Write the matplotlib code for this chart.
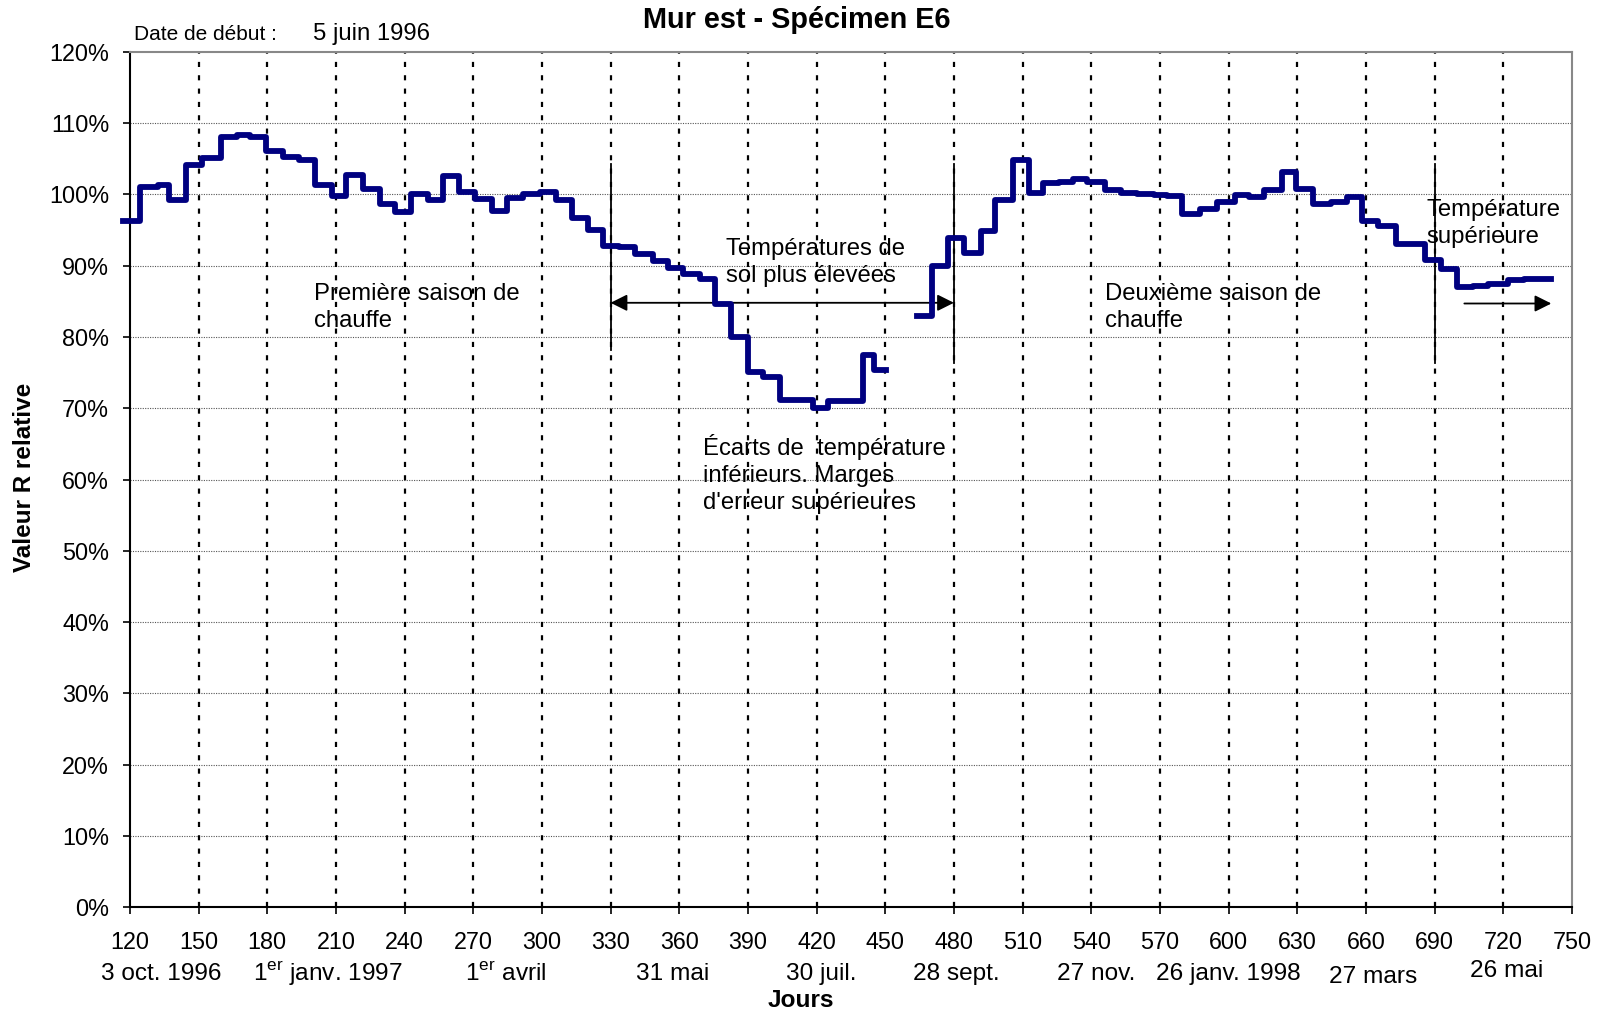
import numpy as np
import matplotlib
matplotlib.use("Agg")
import matplotlib.pyplot as plt
from matplotlib.ticker import FuncFormatter
from matplotlib.transforms import blended_transform_factory

plt.rcParams["font.family"] = ["Liberation Sans", "DejaVu Sans"]

# ── data: start day of each weekly step and its relative R value (%) ─────────
step_days = [117, 124.4, 132.3, 137.1, 144.5, 151.3, 160, 166.6, 172.4, 179.4,
             186.7, 194, 200.8, 208.5, 214.6, 221.9, 229.2, 235.8, 243, 250.3,
             256.8, 263.8, 270.7, 278, 284.8, 291.8, 299.1, 306, 313, 320.2,
             326.8, 333.5, 340.5, 348.5, 355, 361.6, 368.9, 375.4, 382.7, 390,
             396.5, 403.8, 418.4, 424.9, 440.2, 445.3, 450.4,
             464, 470.5, 477.6, 484.4, 491.9, 498.1, 505.8, 512.9, 519, 526,
             532, 538, 545.8, 552.9, 560, 567.2, 573, 579.6, 587.6, 594.8,
             602.8, 609, 615.3, 623.3, 629.6, 636.7, 644.8, 651.9, 658.1,
             665.2, 673.3, 685.7, 692.9, 700, 707, 713.4, 722, 729, 741]
step_vals = [96.3, 101.0, 101.3, 99.2, 104.1, 105.1, 108.1, 108.3, 108.1, 106.1,
             105.3, 104.8, 101.3, 99.8, 102.7, 100.7, 98.7, 97.6, 100.1, 99.2,
             102.6, 100.4, 99.3, 97.7, 99.5, 100.0, 100.4, 99.2, 96.7, 95.0,
             92.7, 92.6, 91.7, 90.6, 89.7, 88.9, 88.1, 84.7, 80.0, 75.1,
             74.4, 71.2, 70.0, 71.0, 77.5, 75.3, np.nan,
             83.0, 90.0, 93.9, 91.8, 94.9, 99.2, 104.9, 100.2, 101.6, 101.7,
             102.2, 101.8, 100.6, 100.2, 100.1, 99.9, 99.8, 97.3, 98.0, 99.0,
             99.9, 99.7, 100.6, 103.1, 100.8, 98.7, 99.0, 99.7, 96.3,
             95.6, 93.1, 90.8, 89.6, 87.0, 87.1, 87.4, 88.0, 88.2, 88.2]

x_ticks = list(range(120, 751, 30))
y_ticks = list(range(0, 121, 10))

date_labels = ["3 oct. 1996", r"1$^{\mathregular{er}}$ janv. 1997",
               r"1$^{\mathregular{er}}$ avril", "31 mai", "30 juil.",
               "28 sept.", "27 nov.", "26 janv. 1998", "27 mars", "26 mai"]
date_days = [133.5, 206.5, 284, 357, 422, 481, 542, 600, 663, 721.5]
date_dy = [0, 0, 0, 0, 0, 0, 0, 0, 3, -3]

season_lines = [(330, 78.2), (480, 76.4), (690, 76.4)]   # day, bottom of line (%)
season_top = 104.3

fig = plt.figure(figsize=(16.04, 10.13), dpi=100)
ax = fig.add_axes([0.081, 0.1046, 0.899, 0.8441])

ax.step(step_days, step_vals, where="post", color="#000080", lw=4.2,
        clip_on=False, zorder=5)

ax.set_xlim(120, 750)
ax.set_ylim(0, 120)
ax.set_xticks(x_ticks)
ax.set_yticks(y_ticks)
ax.yaxis.set_major_formatter(FuncFormatter(lambda v, p: f"{v:.0f}%"))
ax.tick_params(axis="both", labelsize=16.8, direction="out", length=5, width=1.2)
ax.tick_params(axis="x", pad=12)
ax.tick_params(axis="y", pad=10)

# grid
for v in y_ticks[1:-1]:
    ax.axhline(v, color="#555555", lw=0.8, ls=(0, (1, 1.2)), zorder=1)
for d in x_ticks[1:-1]:
    ax.axvline(d, color="black", lw=1.6, ls=(0, (2.3, 3.7)), zorder=1)

for s in ["top", "right"]:
    ax.spines[s].set_color("#888888")
    ax.spines[s].set_linewidth(1.5)
for s in ["left", "bottom"]:
    ax.spines[s].set_linewidth(1.5)

# season markers
for d, bot in season_lines:
    ax.plot([d, d], [bot, season_top], color="black", lw=1.3, zorder=4)
ax.annotate("", xy=(330, 84.8), xytext=(480, 84.8),
            arrowprops=dict(arrowstyle="<|-|>", color="black", lw=1.3,
                            mutation_scale=25, shrinkA=0, shrinkB=0))
ax.annotate("", xy=(741, 84.7), xytext=(703, 84.7),
            arrowprops=dict(arrowstyle="-|>", color="black", lw=1.3,
                            mutation_scale=25, shrinkA=0, shrinkB=0))

txt = dict(fontsize=17.2, va="top", ha="left", linespacing=1.3, zorder=6)
ax.text(200.5, 87.6, "Première saison de\nchauffe", **txt)
ax.text(380.5, 93.9, "Températures de\nsol plus élevées", **txt)
ax.text(370.2, 66.4, "Écarts de  température\ninférieurs. Marges\nd'erreur supérieures", **txt)
ax.text(545.8, 87.6, "Deuxième saison de\nchauffe", **txt)
ax.text(686.6, 99.4, "Température\nsupérieure", **txt)

# date labels under the tick numbers
trans = blended_transform_factory(ax.transData, fig.transFigure)
for lab, d, dy in zip(date_labels, date_days, date_dy):
    ax.text(d, 1 - (974 + dy) / 1013, lab, transform=trans, fontsize=17.6,
            ha="center", va="center", clip_on=False)

fig.text(797 / 1604, 1 - 20 / 1013, "Mur est - Spécimen E6", fontsize=20.8,
         fontweight="bold", ha="center", va="center")
fig.text(134 / 1604, 1 - 34 / 1013, "Date de début :", fontsize=15,
         ha="left", va="center")
fig.text(313 / 1604, 1 - 34 / 1013, "5 juin 1996", fontsize=17.2,
         ha="left", va="center")
fig.text(801 / 1604, 1 - 1000 / 1013, "Jours", fontsize=17.6,
         fontweight="bold", ha="center", va="center")
fig.text(24.5 / 1604, 1 - 477 / 1013, "Valeur R relative", fontsize=17.5,
         fontweight="bold", ha="center", va="center", rotation=90)

fig.savefig("out.png", dpi=100)
